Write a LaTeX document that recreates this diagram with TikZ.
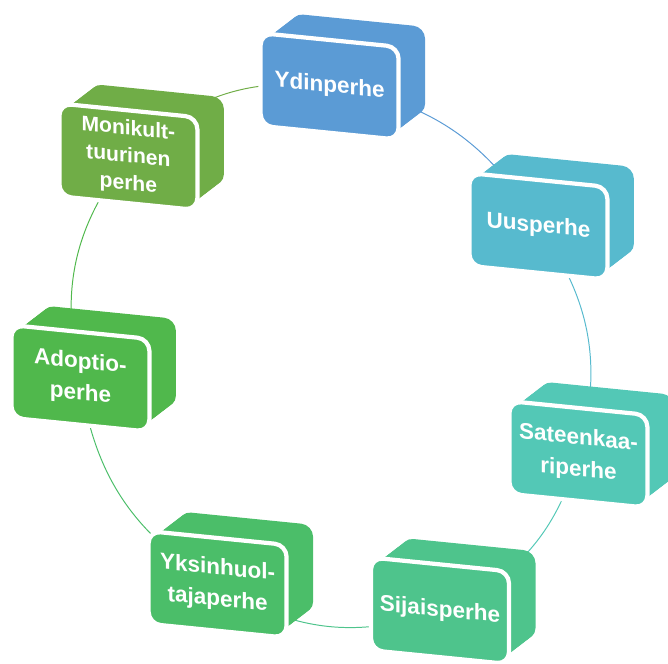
\documentclass[tikz,border=0pt]{standalone}
\usepackage{fontspec}
\setmainfont{Liberation Sans}
\usetikzlibrary{backgrounds}
\definecolor{fcblue}{RGB}{91,155,213}
\definecolor{fccyan}{RGB}{87,186,206}
\definecolor{fcteal}{RGB}{83,200,182}
\definecolor{fcmint}{RGB}{78,196,140}
\definecolor{fcgreen}{RGB}{75,190,105}
\definecolor{fcleaf}{RGB}{80,184,76}
\definecolor{fcolive}{RGB}{112,173,71}
\tikzstyle{face} = [rectangle, rounded corners=0.3cm, minimum width=3.45cm, minimum height=2.32cm, align=center, text=white, draw=white, line width=3pt, transform shape, font=\fontsize{16}{22.5}\selectfont\bfseries]
\tikzstyle{link} = [line width=0.7pt]

\begin{document}
\begin{tikzpicture}
\useasboundingbox (0,0) rectangle (16.7,16.6);
\clip (0,0) rectangle (16.7,16.6);

% Ydinperhe
\begin{scope}[shift={(8.24,14.44)}, yslant=-0.1]
\foreach \t in {0.05,0.1,...,1.0}
  \fill[fcblue, rounded corners=0.3cm] (-1.675+0.75*\t,-1.11+0.65*\t) rectangle (1.675+0.75*\t,1.11+0.65*\t);
\node[face, fill=fcblue] (ydin) at (0,0) {Ydinperhe};
\end{scope}

% Uusperhe
\begin{scope}[shift={(13.46,10.94)}, yslant=-0.1]
\foreach \t in {0.05,0.1,...,1.0}
  \fill[fccyan, rounded corners=0.3cm] (-1.675+0.75*\t,-1.11+0.65*\t) rectangle (1.675+0.75*\t,1.11+0.65*\t);
\node[face, fill=fccyan] (uus) at (0,0) {Uusperhe};
\end{scope}

% Sateenkaariperhe
\begin{scope}[shift={(14.46,5.24)}, yslant=-0.1]
\foreach \t in {0.05,0.1,...,1.0}
  \fill[fcteal, rounded corners=0.3cm] (-1.675+0.75*\t,-1.11+0.65*\t) rectangle (1.675+0.75*\t,1.11+0.65*\t);
\node[face, fill=fcteal] (sateen) at (0,0) {Sateenkaa-\\riperhe};
\end{scope}

% Sijaisperhe
\begin{scope}[shift={(11.0,1.33)}, yslant=-0.1]
\foreach \t in {0.05,0.1,...,1.0}
  \fill[fcmint, rounded corners=0.3cm] (-1.675+0.75*\t,-1.11+0.65*\t) rectangle (1.675+0.75*\t,1.11+0.65*\t);
\node[face, fill=fcmint] (sijais) at (0,0) {Sijaisperhe};
\end{scope}

% Yksinhuoltajaperhe
\begin{scope}[shift={(5.44,1.99)}, yslant=-0.1]
\foreach \t in {0.05,0.1,...,1.0}
  \fill[fcgreen, rounded corners=0.3cm] (-1.675+0.75*\t,-1.11+0.65*\t) rectangle (1.675+0.75*\t,1.11+0.65*\t);
\node[face, fill=fcgreen] (yksin) at (0,0) {Yksinhuol-\\tajaperhe};
\end{scope}

% Adoptioperhe
\begin{scope}[shift={(2.01,7.14)}, yslant=-0.1]
\foreach \t in {0.05,0.1,...,1.0}
  \fill[fcleaf, rounded corners=0.3cm] (-1.675+0.75*\t,-1.11+0.65*\t) rectangle (1.675+0.75*\t,1.11+0.65*\t);
\node[face, fill=fcleaf] (adopt) at (0,0) {Adoptio-\\perhe};
\end{scope}

% Monikulttuurinen perhe
\begin{scope}[shift={(3.21,12.68)}, yslant=-0.1]
\foreach \t in {0.05,0.1,...,1.0}
  \fill[fcolive, rounded corners=0.3cm] (-1.675+0.75*\t,-1.11+0.65*\t) rectangle (1.675+0.75*\t,1.11+0.65*\t);
\node[face, fill=fcolive, font=\fontsize{15}{19.5}\selectfont\bfseries] (moni) at (0,0) {Monikult-\\tuurinen\\perhe};
\end{scope}

% Cycle
\begin{scope}[on background layer]
\draw[link, fcblue] (ydin.center) to[bend left=26] (uus.center);
\draw[link, fccyan] (uus.center) to[bend left=26] (sateen.center);
\draw[link, fcteal] (sateen.center) to[bend left=26] (sijais.center);
\draw[link, fcmint] (sijais.center) to[bend left=26] (yksin.center);
\draw[link, fcgreen] (yksin.center) to[bend left=26] (adopt.center);
\draw[link, fcleaf] (adopt.center) to[bend left=26] (moni.center);
\draw[link, fcolive] (moni.center) to[bend left=26] (ydin.center);
\end{scope}
\end{tikzpicture}
\end{document}
